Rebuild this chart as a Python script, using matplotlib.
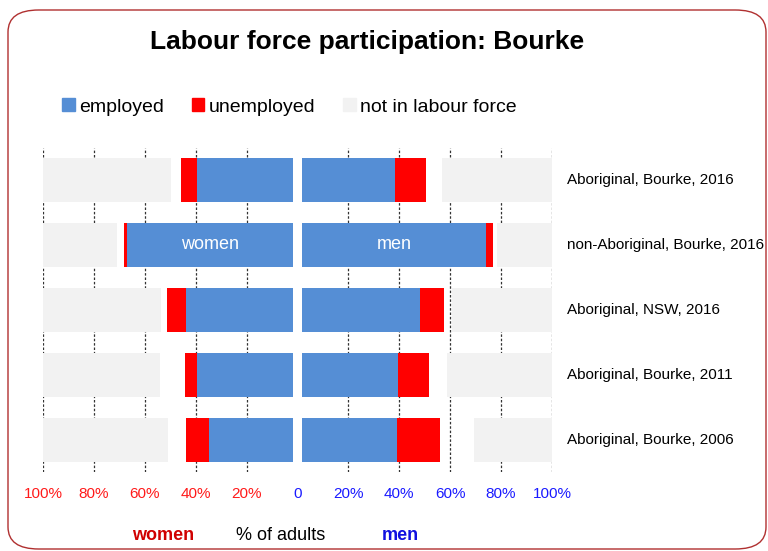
import numpy as np
import matplotlib.pyplot as plt
from matplotlib.patches import FancyBboxPatch, Patch
from matplotlib.transforms import blended_transform_factory

plt.rcParams['font.family'] = ['Liberation Sans', 'DejaVu Sans']

# --- data (percent of adults) --- #
groups = ["Aboriginal, Bourke, 2016", "non-Aboriginal, Bourke, 2016",
          "Aboriginal, NSW, 2016", "Aboriginal, Bourke, 2011",
          "Aboriginal, Bourke, 2006"]
women_employed = [37.7, 65.2, 42.1, 37.7, 33.0]
women_unemployed = [6.3, 1.2, 7.2, 4.6, 8.9]
women_not_in_lf = [50.3, 29.1, 46.4, 46.0, 49.1]
men_employed = [36.5, 72.4, 46.3, 37.6, 37.4]
men_unemployed = [12.2, 2.5, 9.3, 12.3, 16.7]
men_not_in_lf = [43.2, 21.8, 39.4, 41.3, 30.6]
tick_vals = [-100, -80, -60, -40, -20, 0, 20, 40, 60, 80, 100]
tick_text = ["100%", "80%", "60%", "40%", "20%", "0", "20%", "40%", "60%", "80%", "100%"]

c_emp = "#558ED5"
c_unemp = "#FF0000"
c_nilf = "#F2F2F2"
gap = 1.8  # white gap at centre
h = 0.68

fig = plt.figure(figsize=(7.68, 5.51), dpi=100)
ax = fig.add_axes([43 / 768, 1 - 472 / 551, 509 / 768, (472 - 147.6) / 551])

y = np.arange(len(groups))
we = np.array(women_employed)
wu = np.array(women_unemployed)
wn = np.array(women_not_in_lf)
me = np.array(men_employed)
mu = np.array(men_unemployed)
mn = np.array(men_not_in_lf)

# women to the left, men to the right; not in labour force from the outer edge
ax.barh(y, -we, left=-gap, height=h, color=c_emp, zorder=3)
ax.barh(y, -wu, left=-gap - we, height=h, color=c_unemp, zorder=3)
ax.barh(y, wn, left=-100, height=h, color=c_nilf, zorder=3)
ax.barh(y, me, left=gap, height=h, color=c_emp, zorder=3)
ax.barh(y, mu, left=gap + me, height=h, color=c_unemp, zorder=3)
ax.barh(y, -mn, left=100, height=h, color=c_nilf, zorder=3)

for v in tick_vals:
    if v != 0:
        ax.axvline(v, color="#333333", lw=0.9, ls=(0, (2, 1.5)), zorder=1)

ax.set_xlim(-100, 100)
ax.set_ylim(len(groups) - 0.5, -0.5)
ax.set_yticks([])
ax.set_xticks(tick_vals)
ax.set_xticklabels(tick_text, fontsize=11)
for lbl, v in zip(ax.get_xticklabels(), tick_vals):
    lbl.set_color("#FF1A1A" if v < 0 else "#1A1AFF")
ax.tick_params(axis="x", length=0, pad=11)
for s in ax.spines.values():
    s.set_visible(False)

trans = blended_transform_factory(fig.transFigure, ax.transData)
for yi, g in zip(y, groups):
    ax.text(567 / 768, yi, g, transform=trans, va="center", ha="left", fontsize=11)

ax.text(-gap - we[1] / 2, y[1], "women", color="white", fontsize=13,
        ha="center", va="center", zorder=4)
ax.text(gap + me[1] / 2, y[1], "men", color="white", fontsize=13,
        ha="center", va="center", zorder=4)

fig.text(367 / 768, 1 - 42 / 551, "Labour force participation: Bourke",
         fontsize=19, fontweight="bold", ha="center", va="center")

handles = [Patch(color=c_emp, label="employed"),
           Patch(color=c_unemp, label="unemployed"),
           Patch(color=c_nilf, label="not in labour force")]
fig.legend(handles=handles, loc="center left", bbox_to_anchor=(62 / 768, 1 - 107 / 551),
           ncol=3, frameon=False, fontsize=14, handlelength=0.65, handleheight=0.65,
           handletextpad=0.25, columnspacing=1.4, borderaxespad=0, borderpad=0)

fig.text(163 / 768, 1 - 535 / 551, "women", color="#D00000", fontsize=13,
         fontweight="bold", ha="center", va="center")
fig.text(281 / 768, 1 - 535 / 551, "% of adults", color="black", fontsize=13,
         ha="center", va="center")
fig.text(400 / 768, 1 - 535 / 551, "men", color="#1010E0", fontsize=13,
         fontweight="bold", ha="center", va="center")

border = FancyBboxPatch((8 / 768, 1 - 549 / 551), 758 / 768, 539 / 551,
                        boxstyle="round,pad=0,rounding_size=0.04",
                        transform=fig.transFigure, fill=False,
                        edgecolor="#B03030", lw=1.0)
fig.patches.append(border)

fig.savefig("out.png", dpi=100)
